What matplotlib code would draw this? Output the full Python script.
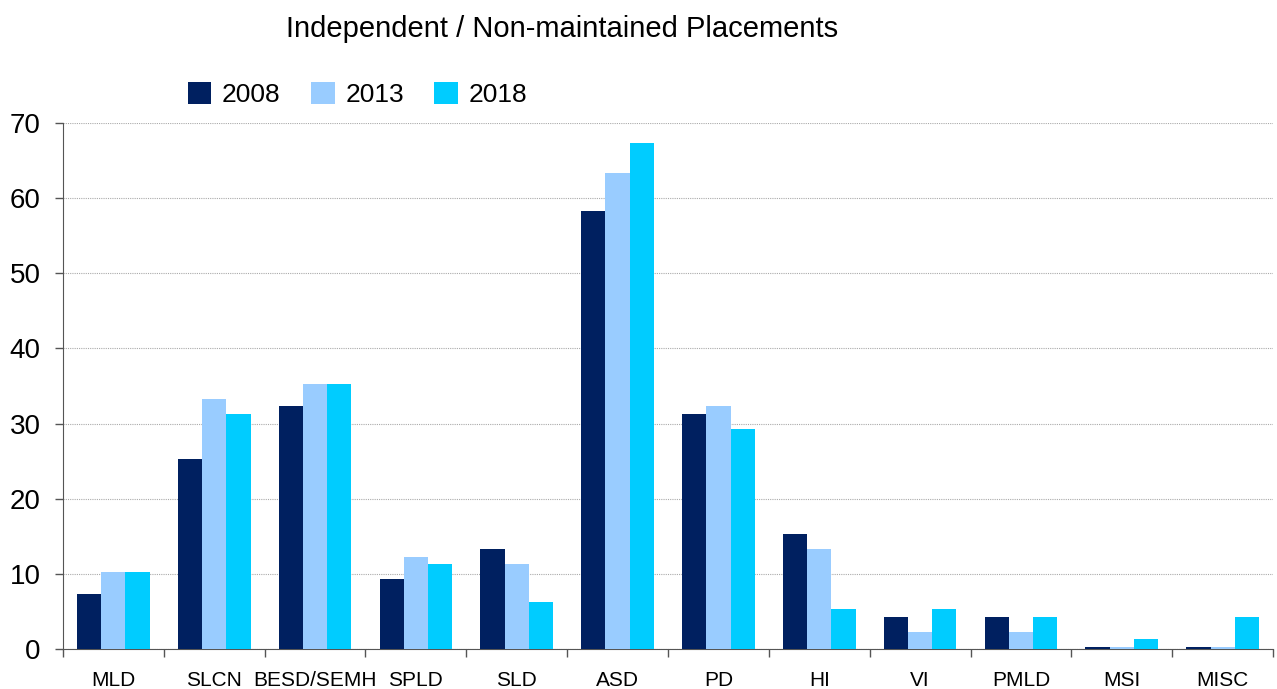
import numpy as np
import matplotlib
matplotlib.use('Agg')
import matplotlib.pyplot as plt

plt.rcParams['font.family'] = ['Liberation Sans', 'DejaVu Sans']

categories = ['MLD', 'SLCN', 'BESD/SEMH', 'SPLD', 'SLD', 'ASD', 'PD', 'HI', 'VI', 'PMLD', 'MSI', 'MISC']
years = ['2008', '2013', '2018']
vals_2008 = [7.3, 25.3, 32.3, 9.3, 13.3, 58.3, 31.3, 15.3, 4.3, 4.3, 0.3, 0.3]
vals_2013 = [10.3, 33.3, 35.3, 12.3, 11.3, 63.3, 32.3, 13.3, 2.3, 2.3, 0.3, 0.3]
vals_2018 = [10.3, 31.3, 35.3, 11.3, 6.3, 67.3, 29.3, 5.3, 5.3, 4.3, 1.3, 4.3]
colors = ['#002060', '#99CCFF', '#00CCFF']

fig = plt.figure(figsize=(12.77, 6.89), dpi=100)
ax = fig.add_axes([0.0493, 0.058, 0.9476, 0.7635])

x = np.arange(len(categories))
w = 0.24
for i, (vals, yr) in enumerate(zip([vals_2008, vals_2013, vals_2018], years)):
    ax.bar(x + (i - 1) * w, vals, w, color=colors[i], label=yr, zorder=3)

ax.set_xlim(-0.5, len(categories) - 0.5)
ax.set_ylim(0, 70)
ax.set_yticks(range(0, 71, 10))
ax.tick_params(axis='y', labelsize=20, length=6, width=1, color='#555555', pad=10)
ax.yaxis.grid(True, linestyle=(0, (1, 1)), color='#aaaaaa', linewidth=0.8, zorder=0)

# category labels at centres, tick marks at boundaries
ax.set_xticks(np.arange(-0.5, len(categories)), minor=False)
ax.set_xticklabels([])
ax.tick_params(axis='x', length=6, width=1, color='#555555')
ax.set_xticks(x, minor=True)
ax.set_xticklabels(categories, minor=True, fontsize=15)
ax.tick_params(axis='x', which='minor', length=0, pad=16)

for s in ['top', 'right']:
    ax.spines[s].set_visible(False)
ax.spines['left'].set_color('#555555')
ax.spines['bottom'].set_color('#555555')

fig.text(0.44, 0.958, 'Independent / Non-maintained Placements', ha='center', va='center', fontsize=21)
ax.legend(loc='lower left', bbox_to_anchor=(0.09, 1.0), ncol=3, frameon=False, fontsize=19,
          handlelength=0.9, handleheight=0.9, handletextpad=0.4, columnspacing=1.15, borderaxespad=0.2)

fig.savefig('out.png', dpi=100)
